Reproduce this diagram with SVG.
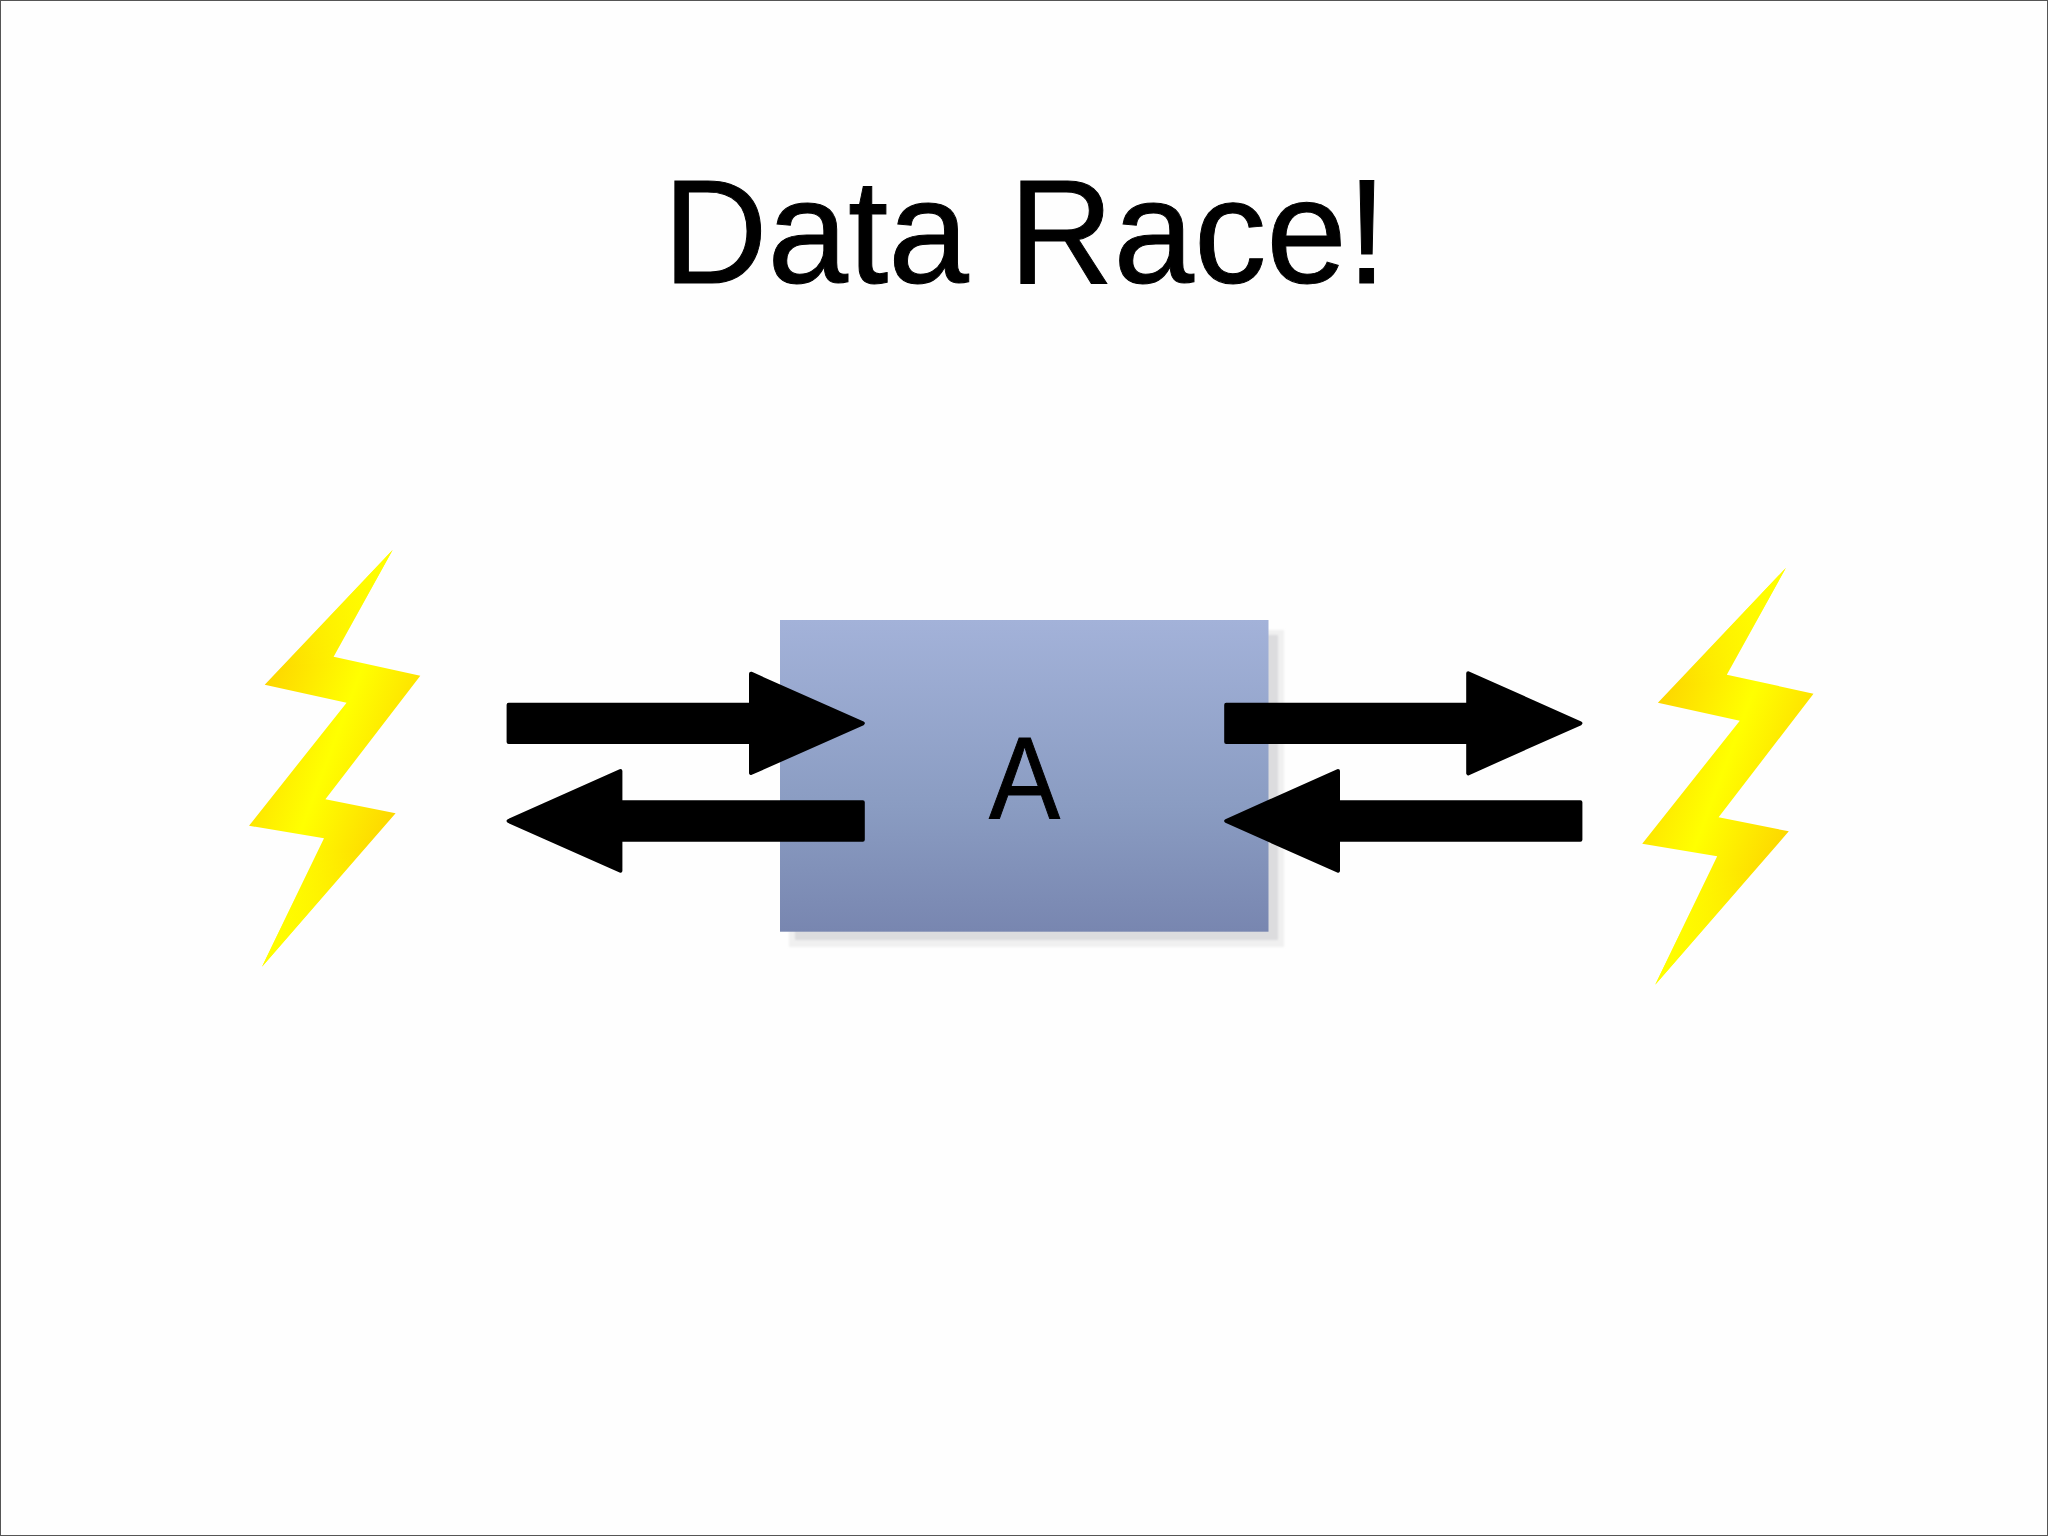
<svg xmlns="http://www.w3.org/2000/svg" width="2048" height="1536" viewBox="0 0 2048 1536">
<defs>
<linearGradient id="box" x1="0" y1="0" x2="0" y2="1"><stop offset="0" stop-color="#a3b2d9"/><stop offset="0.6" stop-color="#8a9cc2"/><stop offset="1" stop-color="#7886b0"/></linearGradient>
<linearGradient id="bolt" gradientUnits="userSpaceOnUse" x1="270" y1="670" x2="430" y2="730"><stop offset="0" stop-color="#fdd600"/><stop offset="0.5" stop-color="#ffff00"/><stop offset="1" stop-color="#fdd600"/></linearGradient>
<linearGradient id="tips" gradientUnits="userSpaceOnUse" x1="0" y1="550" x2="0" y2="967"><stop offset="0" stop-color="#ffff00"/><stop offset="0.28" stop-color="#ffff00" stop-opacity="0"/><stop offset="0.72" stop-color="#ffff00" stop-opacity="0"/><stop offset="1" stop-color="#ffff00"/></linearGradient>
<path id="outline" d="M392.6 550L333.6 656.7L420.3 675.7L325.4 799.3L395.6 813.3L262 966.7L324 838.3L249 825.7L346.6 702.7L264.7 684.7Z"/>
<g id="shape"><use href="#outline" fill="url(#bolt)"/><use href="#outline" fill="url(#tips)"/></g>
<filter id="soft" x="-5%" y="-5%" width="110%" height="110%"><feGaussianBlur stdDeviation="0.8"/></filter>
<style>
.t{font-family:"Liberation Sans",Arial,sans-serif;fill:#000;stroke:#000;stroke-width:1}
.a{fill:#000;stroke:#000;stroke-width:4;stroke-linejoin:round}
</style>
</defs>
<rect x="0" y="0" width="2048" height="1536" fill="#fefefe"/>
<rect x="0.5" y="0.5" width="2047" height="1535" fill="none" stroke="#555" stroke-width="1"/>
<g id="title"><text class="t" x="663" y="282.7" font-size="149" textLength="724" lengthAdjust="spacingAndGlyphs">Data Race!</text></g>
<g id="bolt-left"><use href="#shape"/></g>
<g id="bolt-right"><use href="#shape" x="1393.2" y="18"/></g>
<g id="box-a">
<rect x="789" y="630" width="495" height="317" fill="#f0f0f0" filter="url(#soft)"/>
<rect x="795" y="635" width="483" height="305" fill="#dcdcde" filter="url(#soft)"/>
<rect x="780" y="620" width="488.5" height="311.7" fill="url(#box)"/>
<text class="t" x="989" y="819" font-size="116" textLength="71" lengthAdjust="spacingAndGlyphs">A</text>
</g>
<g id="connectors">
<path class="a" d="M508.6 704.7H751V673.7L862.8 723.3L751 773V742H508.6Z"/>
<path class="a" d="M862.8 802.3H620.4V771L508.6 821L620.4 870.7V839.7H862.8Z"/>
<path class="a" d="M1226.2 704.7H1468.2V673.3L1580.4 723.3L1468.2 773.3V742H1226.2Z"/>
<path class="a" d="M1580.4 802.3H1338V771L1226.2 821L1338 870.7V839.7H1580.4Z"/>
</g>
</svg>
